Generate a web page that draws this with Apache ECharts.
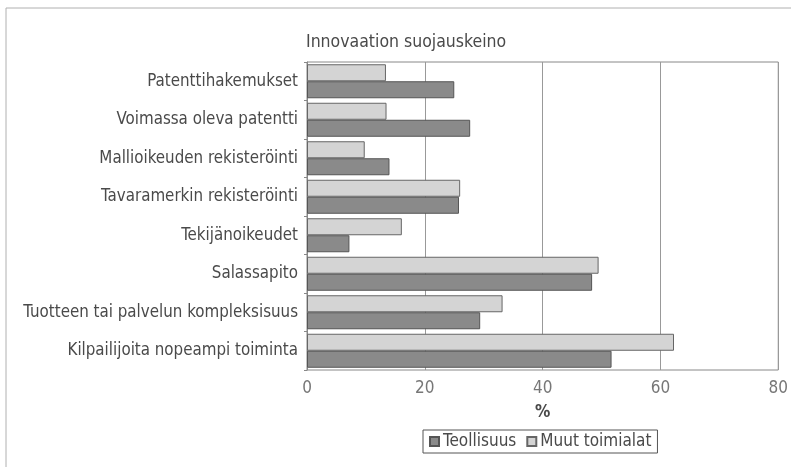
<!DOCTYPE html>
<html>
<head>
<meta charset="utf-8">
<script src="https://cdn.jsdelivr.net/npm/echarts@6/dist/echarts.min.js"></script>
<style>
  html, body { margin: 0; padding: 0; background: #fff; }
  #chart { width: 791px; height: 467px; }
</style>
</head>
<body>
<div id="chart"></div>
<script>
const categories = [
  "Patenttihakemukset",
  "Voimassa oleva patentti",
  "Mallioikeuden rekisteröinti",
  "Tavaramerkin rekisteröinti",
  "Tekijänoikeudet",
  "Salassapito",
  "Tuotteen tai palvelun kompleksisuus",
  "Kilpailijoita nopeampi toiminta",
];
const teollisuus = [25, 27.7, 14, 25.8, 7.2, 48.4, 29.4, 51.7];
const muutToimialat = [13.4, 13.5, 9.8, 26, 16.1, 49.5, 33.2, 62.3];
const xTicks = [0, 20, 40, 60, 80];

const FONT = "'DejaVu Sans Condensed', 'Liberation Sans Narrow', sans-serif";
const TEXT = "#4a4a4a";

const chart = echarts.init(document.getElementById("chart"));

chart.setOption({
  animation: false,
  textStyle: { fontFamily: FONT, color: TEXT },
  title: {
    text: "Innovaation suojauskeino",
    left: 301,
    top: 28,
    textStyle: { fontFamily: FONT, fontSize: 17.5, fontWeight: "normal", color: TEXT },
  },
  graphic: [
    {
      type: "rect",
      shape: { x: 6, y: 8, width: 820, height: 500 },
      style: { fill: "none", stroke: "#b0b0b0", lineWidth: 1 },
      silent: true,
    },
  ],
  legend: {
    data: ["Teollisuus", "Muut toimialat"],
    left: 423,
    top: 430,
    padding: [3, 6, 3, 6],
    borderColor: "#555",
    borderWidth: 1,
    itemWidth: 9,
    itemHeight: 9,
    itemGap: 10,
    icon: "rect",
    textStyle: { fontFamily: FONT, fontSize: 17, color: TEXT, padding: [0, 0, 0, -1] },
  },
  grid: {
    left: 307,
    right: 11,
    top: 62,
    bottom: 97,
    show: true,
    borderColor: "#888",
    borderWidth: 1,
  },
  xAxis: {
    type: "value",
    min: xTicks[0],
    max: xTicks[xTicks.length - 1],
    interval: 20,
    name: "%",
    nameLocation: "middle",
    nameGap: 34,
    nameTextStyle: { fontFamily: FONT, fontSize: 17, fontWeight: "bold", color: TEXT },
    axisLine: { show: false },
    axisTick: { show: false },
    axisLabel: { fontFamily: FONT, fontSize: 17, color: "#777", margin: 10 },
    splitLine: { show: true, lineStyle: { color: "#999", width: 1 } },
  },
  yAxis: {
    type: "category",
    data: categories,
    inverse: true,
    axisLine: { show: true, lineStyle: { color: "#888" } },
    axisTick: { show: true, length: 3, lineStyle: { color: "#888" } },
    axisLabel: { fontFamily: FONT, fontSize: 16.8, color: TEXT, margin: 9 },
  },
  series: [
    {
      name: "Muut toimialat",
      type: "bar",
      data: muutToimialat,
      barWidth: 17,
      barGap: "0%",
      itemStyle: { color: "#d4d4d4", borderColor: "#666", borderWidth: 1 },
    },
    {
      name: "Teollisuus",
      type: "bar",
      data: teollisuus,
      barWidth: 17,
      itemStyle: { color: "#8a8a8a", borderColor: "#555", borderWidth: 1 },
    },
  ],
});

window.addEventListener("resize", () => chart.resize());
</script>
</body>
</html>
